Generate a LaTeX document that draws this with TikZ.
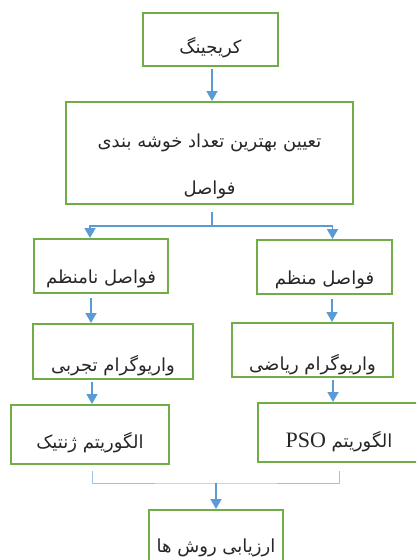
\documentclass[tikz,border=0pt]{standalone}
\usepackage{fontspec}
\usetikzlibrary{arrows.meta,calc}
\TeXXeTstate=1
\newfontfamily\farsifont[Script=Arabic]{DejaVu Sans}
\newfontfamily\latinserif{Liberation Serif}
\definecolor{boxgreen}{HTML}{70AD47}
\definecolor{arrblue}{HTML}{5B9BD5}
\definecolor{lineblue}{HTML}{9DC3E6}
\definecolor{txtgray}{HTML}{262626}
\newcommand\fatxt[1]{{\color{txtgray}\farsifont\fontsize{18}{22}\selectfont\beginR #1\endR}}
\newcommand\lowtxt[2]{\raisebox{-#1}[0pt][0pt]{#2}}
\tikzset{
  box/.style={draw=boxgreen, line width=2pt, inner sep=0pt},
  arr/.style={draw=arrblue, line width=1.8pt, -{Triangle[width=11pt,length=10pt]}},
  plainline/.style={draw=arrblue, line width=1.8pt},
  thinline/.style={draw=lineblue, line width=1pt}
}
\begin{document}
\begin{tikzpicture}[x=1pt,y=-1pt]
\useasboundingbox (0,0) rectangle (416,560);
\clip (0,0) rectangle (416,560);

\node[box, minimum width=135pt, minimum height=53pt] (B1) at (210.5,39.5)
  {\lowtxt{13.5pt}{\fatxt{کریجینگ}}};
\node[box, minimum width=287pt, minimum height=102pt] (B2) at (209.5,153)
  {\raisebox{6pt}[0pt][0pt]{\farsifont\fontsize{18}{22}\selectfont\begin{tabular}[t]{@{}c@{}}\fatxt{تعیین بهترین تعداد خوشه بندی}\\[25pt]\fatxt{فواصل}\end{tabular}}};
\node[box, minimum width=134pt, minimum height=54pt] (B3L) at (101,266)
  {\lowtxt{17pt}{\fatxt{فواصل نامنظم}}};
\node[box, minimum width=135pt, minimum height=54pt] (B3R) at (324.5,267)
  {\lowtxt{17pt}{\fatxt{فواصل منظم}}};
\node[box, minimum width=160pt, minimum height=55pt] (B4L) at (113,351.5)
  {\lowtxt{20pt}{\fatxt{واریوگرام تجربی}}};
\node[box, minimum width=161pt, minimum height=54pt] (B4R) at (312.5,350)
  {\lowtxt{20pt}{\fatxt{واریوگرام ریاضی}}};
\node[box, minimum width=158pt, minimum height=59pt] (B5L) at (90,434.5)
  {\lowtxt{14pt}{\fatxt{الگوریتم ژنتیک}}};
\node[box, minimum width=162pt, minimum height=59pt] (B5R) at (339,432.5)
  {\lowtxt{14.5pt}{\fatxt{الگوریتم \beginL{\latinserif\fontsize{22}{26}\selectfont PSO}\endL}}};
\node[box, minimum width=134pt, minimum height=90pt] (B6) at (216,555)
  {\lowtxt{-3pt}{\fatxt{ارزیابی روش ها}}};

% connectors
\draw[arr] ([xshift=1.5pt,yshift=-2pt]B1.south) -- ([xshift=1.5pt]B1.south |- B2.north);
\draw[plainline] ([xshift=2.5pt,yshift=-7pt]B2.south) -- ++(0,14) coordinate (J);
\draw[arr] (J) -| ([xshift=-11pt]B3L.north);
\draw[arr] (J) -| ([xshift=8pt]B3R.north);
\draw[arr] ([xshift=-10pt,yshift=-4pt]B3L.south) -- ([xshift=-10pt]B3L.south |- B4L.north);
\draw[arr] ([xshift=7.5pt,yshift=-4pt]B3R.south) -- ([xshift=7.5pt]B3R.south |- B4R.north);
\draw[arr] ([xshift=-21pt,yshift=-2pt]B4L.south) -- ([xshift=-21pt]B4L.south |- B5L.north);
\draw[arr] ([xshift=20.5pt,yshift=-2pt]B4R.south) -- ([xshift=20.5pt]B4R.south |- B5R.north);
\coordinate (M) at (B6.north |- 0,483);
\draw[thinline] ([xshift=2pt,yshift=-6pt]B5L.south) |- (M) -| ([yshift=-8pt]B5R.south);
\draw[arr] (M) -- (B6.north);
\end{tikzpicture}
\end{document}
